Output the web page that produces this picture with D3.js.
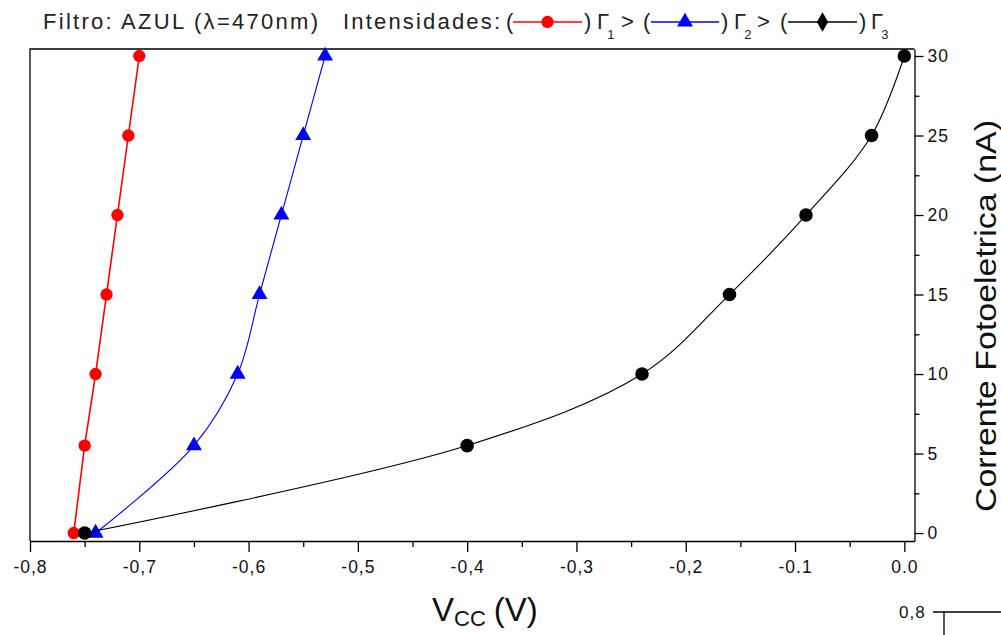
<!DOCTYPE html>
<html>
<head>
<meta charset="utf-8">
<title>Corrente Fotoeletrica - Filtro Azul</title>
<script src="https://d3js.org/d3.v7.min.js"></script>
<style>
    body { margin: 0; background: #fff; }
    svg { font-family: "Liberation Sans", Arial, sans-serif; }
    .axis path, .axis line { stroke: #000; stroke-width: 1.3; }
    .axis text { font-size: 17.5px; fill: #111; letter-spacing: 1px; }
    .title text { font-size: 22px; fill: #222; }
</style>
</head>
<body>
<div id="chart"></div>
<script>
    // photocurrent (nA) measured at each point
    const currents = [0, 5.5, 10, 15, 20, 25, 30];
    // stopping voltage Vcc (V) for each intensity
    const voltsG1 = [-0.76, -0.75, -0.74, -0.73, -0.72, -0.71, -0.70];
    const voltsG2 = [-0.74, -0.65, -0.61, -0.59, -0.57, -0.55, -0.53];
    const voltsG3 = [-0.75, -0.40, -0.24, -0.16, -0.09, -0.03, 0.00];

    const xTicks = [-0.8, -0.7, -0.6, -0.5, -0.4, -0.3, -0.2, -0.1, 0.0];
    const xTickLabels = ["-0,8", "-0,7", "-0,6", "-0,5", "-0,4", "-0,3", "-0,2", "-0.1", "0.0"];
    const yTicks = [0, 5, 10, 15, 20, 25, 30];

    const W = 1001, H = 635;
    const plotL = 30, plotR = 914.5, plotT = 49, plotB = 541;

    const x = d3.scaleLinear().domain([-0.8, 0.0093]).range([plotL, plotR]);
    const y = d3.scaleLinear().domain([-0.5, 30.44]).range([plotB, plotT]);

    const svg = d3.select("#chart").append("svg")
        .attr("width", W)
        .attr("height", H);

    // frame (top + left), axes draw the others
    svg.append("path")
        .attr("d", `M${plotL},${plotB}V${plotT}H${plotR}`)
        .attr("fill", "none")
        .attr("stroke", "#000")
        .attr("stroke-width", 1.3);

    // bottom axis, major + minor
    svg.append("g")
        .attr("class", "axis")
        .attr("transform", `translate(0,${plotB})`)
        .call(d3.axisBottom(x).tickValues(d3.range(-0.75, 0, 0.1)).tickSize(6).tickFormat(""))
        .call(g => g.select(".domain").remove());
    svg.append("g")
        .attr("class", "axis")
        .attr("transform", `translate(0,${plotB})`)
        .call(d3.axisBottom(x).tickValues(xTicks).tickSize(11).tickSizeOuter(0).tickPadding(9)
            .tickFormat((d, i) => xTickLabels[i]));

    // right axis, major + minor
    svg.append("g")
        .attr("class", "axis")
        .attr("transform", `translate(${plotR},0)`)
        .call(d3.axisRight(y).tickValues(d3.range(2.5, 30, 5)).tickSize(5).tickFormat(""))
        .call(g => g.select(".domain").remove());
    svg.append("g")
        .attr("class", "axis")
        .attr("transform", `translate(${plotR},0)`)
        .call(d3.axisRight(y).tickValues(yTicks).tickSize(9).tickSizeOuter(0).tickPadding(4));

    const series = [
        { name: "G1", volts: voltsG1, color: "#ff0000", width: 1.6, curve: d3.curveLinear, marker: d3.symbolCircle, size: 120 },
        { name: "G2", volts: voltsG2, color: "#0000ff", width: 1.1, curve: d3.curveCatmullRom, marker: d3.symbolTriangle, size: 110 },
        { name: "G3", volts: voltsG3, color: "#000000", width: 1.1, curve: d3.curveCatmullRom, marker: d3.symbolCircle, size: 145 }
    ];

    series.forEach(s => {
        const pts = s.volts.map((v, i) => [v, currents[i]]);
        svg.append("path")
            .datum(pts)
            .attr("fill", "none")
            .attr("stroke", s.color)
            .attr("stroke-width", s.width)
            .attr("d", d3.line().x(d => x(d[0])).y(d => y(d[1])).curve(s.curve));
        svg.append("g")
            .selectAll("path")
            .data(pts)
            .join("path")
            .attr("transform", d => `translate(${x(d[0])},${y(d[1])})`)
            .attr("d", d3.symbol().type(s.marker).size(s.size))
            .attr("fill", s.color);
    });

    // title / legend line
    const title = svg.append("g").attr("class", "title");
    title.append("text").attr("x", 43).attr("y", 29)
        .attr("textLength", 275).attr("lengthAdjust", "spacing")
        .text("Filtro: AZUL (λ=470nm)");
    title.append("text").attr("x", 343).attr("y", 29)
        .attr("textLength", 157).attr("lengthAdjust", "spacing")
        .text("Intensidades:");

    const legendItems = [
        { s: series[0], open: 506, x0: 513, x1: 582, close: 584, gamma: 597, sub: "1", gt: 621, marker: d3.symbolCircle, size: 120 },
        { s: series[1], open: 643, x0: 651, x1: 719, close: 721, gamma: 734, sub: "2", gt: 757, marker: d3.symbolTriangle, size: 110 },
        { s: series[2], open: 780, x0: 788, x1: 857, close: 859, gamma: 871, sub: "3", gt: null, marker: d3.symbolDiamond, size: 110 }
    ];
    legendItems.forEach(it => {
        title.append("text").attr("x", it.open).attr("y", 29).text("(");
        title.append("line")
            .attr("x1", it.x0).attr("x2", it.x1).attr("y1", 22).attr("y2", 22)
            .attr("stroke", it.s.color).attr("stroke-width", 1.4);
        title.append("path")
            .attr("transform", `translate(${(it.x0 + it.x1) / 2},22)`)
            .attr("d", d3.symbol().type(it.marker).size(it.size))
            .attr("fill", it.s.color);
        title.append("text").attr("x", it.close).attr("y", 29).text(")");
        const g = title.append("text").attr("x", it.gamma).attr("y", 29);
        g.append("tspan").text("Γ");
        g.append("tspan").attr("dx", -2).attr("dy", 10).style("font-size", "13px").text(it.sub);
        if (it.gt) title.append("text").attr("x", it.gt).attr("y", 29).text(">");
    });

    // x axis title: Vcc (V)
    const xl = svg.append("text").attr("x", 432).attr("y", 621).attr("fill", "#111");
    xl.append("tspan").style("font-size", "33px").text("V");
    xl.append("tspan").style("font-size", "22px").attr("dy", 5).text("CC");
    xl.append("tspan").style("font-size", "33px").attr("dy", -5).attr("dx", 8).text("(V)");

    // y axis title
    svg.append("text")
        .attr("transform", "translate(996,512) rotate(-90)")
        .attr("textLength", 392).attr("lengthAdjust", "spacingAndGlyphs")
        .style("font-size", "29px").attr("fill", "#111")
        .text("Corrente Fotoeletrica (nA)");

    // start of the next panel peeking in at the bottom right
    svg.append("text").attr("x", 899).attr("y", 618)
        .style("font-size", "17px").attr("fill", "#111").attr("letter-spacing", 1).text("0,8");
    svg.append("path")
        .attr("d", "M933,612H1001M944,612V635")
        .attr("fill", "none").attr("stroke", "#000").attr("stroke-width", 1.3);
</script>
</body>
</html>
